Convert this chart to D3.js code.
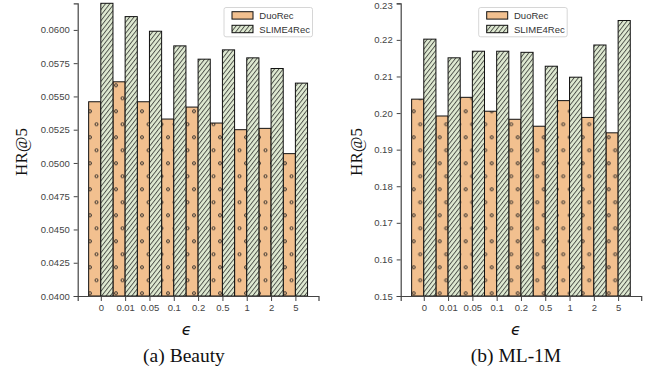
<!DOCTYPE html>
<html>
<head>
<meta charset="utf-8">
<script src="https://cdn.jsdelivr.net/npm/d3@7"></script>
<style>
  body { margin: 0; background: #fff; }
  svg { display: block; }
</style>
</head>
<body>
<svg id="chart" width="656" height="373"></svg>
<script>
const epsLabels = ["0", "0.01", "0.05", "0.1", "0.2", "0.5", "1", "2", "5"];
const seriesNames = ["DuoRec", "SLIME4Rec"];

const beautyDuo   = [0.0546, 0.0561, 0.0546, 0.0533, 0.0542, 0.0530, 0.0525, 0.0526, 0.0507];
const beautySlime = [0.0620, 0.0610, 0.0599, 0.0588, 0.0578, 0.0585, 0.0579, 0.0571, 0.0560];
const beautyTicks = [0.0400, 0.0425, 0.0450, 0.0475, 0.0500, 0.0525, 0.0550, 0.0575, 0.0600];

const mlDuo   = [0.2038, 0.1992, 0.2043, 0.2005, 0.1983, 0.1964, 0.2034, 0.1988, 0.1946];
const mlSlime = [0.2202, 0.2151, 0.2169, 0.2169, 0.2166, 0.2128, 0.2098, 0.2186, 0.2253];
const mlTicks = [0.15, 0.16, 0.17, 0.18, 0.19, 0.20, 0.21, 0.22, 0.23];

const orange = "#f2c08f";
const green = "#dfead2";
const axisCol = "#444";
const sans = "'Liberation Sans', Arial, sans-serif";
const serif = "'Liberation Serif', 'Times New Roman', serif";

const svg = d3.select("#chart");
const defs = svg.append("defs");

// hatch for SLIME4Rec: "////"
const diag = defs.append("pattern")
  .attr("id", "diag")
  .attr("patternUnits", "userSpaceOnUse")
  .attr("width", 3.4).attr("height", 10)
  .attr("patternTransform", "rotate(38)");
diag.append("rect").attr("width", 3.4).attr("height", 10).attr("fill", green);
diag.append("line").attr("x1", 0.5).attr("x2", 0.5).attr("y1", 0).attr("y2", 10)
  .attr("stroke", "#1a1a1a").attr("stroke-width", 0.75);

// hatch for DuoRec: small circles
function dotPattern(id, ox, oy) {
  const p = defs.append("pattern")
    .attr("id", id)
    .attr("patternUnits", "userSpaceOnUse")
    .attr("x", ox).attr("y", oy)
    .attr("width", 13).attr("height", 26);
  p.append("rect").attr("width", 13).attr("height", 26).attr("fill", orange);
  [[0, 0], [13, 0], [0, 26], [13, 26], [6.5, 13]].forEach(([cx, cy]) => {
    p.append("circle").attr("cx", cx).attr("cy", cy).attr("r", 1.5)
      .attr("fill", "none").attr("stroke", "#222").attr("stroke-width", 0.9);
  });
}
dotPattern("dotsA", 90, 189.3);
dotPattern("dotsB", 413.7, 189.3);

function panel(cfg) {
  const g = svg.append("g");
  const x = d3.scaleLinear().domain([-0.95, 8.95]).range([cfg.x0, cfg.x1]);
  const y = d3.scaleLinear().domain(cfg.yDomain).range([296, 3.3]);
  const bw = x(0.5) - x(0);

  // bars
  g.selectAll(".duo").data(cfg.duo).enter().append("rect")
    .attr("x", (d, i) => x(i - 0.5))
    .attr("y", d => y(d))
    .attr("width", bw)
    .attr("height", d => y(cfg.yDomain[0]) - y(d))
    .attr("fill", `url(#${cfg.dots})`)
    .attr("stroke", "#111").attr("stroke-width", 1);

  g.selectAll(".slime").data(cfg.slime).enter().append("rect")
    .attr("x", (d, i) => x(i))
    .attr("y", d => y(d))
    .attr("width", bw)
    .attr("height", d => y(cfg.yDomain[0]) - y(d))
    .attr("fill", "url(#diag)")
    .attr("stroke", "#111").attr("stroke-width", 1);

  // axes
  const yAxis = g.append("g")
    .attr("transform", `translate(${cfg.x0},0)`)
    .call(d3.axisLeft(y).tickValues(cfg.ticks).tickFormat(cfg.fmt).tickSize(4).tickPadding(4));
  const xAxis = g.append("g")
    .attr("transform", "translate(0,296)")
    .call(d3.axisBottom(x).tickValues(d3.range(epsLabels.length))
      .tickFormat(i => epsLabels[i]).tickSize(5).tickPadding(3));
  [yAxis, xAxis].forEach(a => {
    a.select(".domain").attr("stroke", axisCol).attr("stroke-width", 1.2);
    a.selectAll(".tick line").attr("stroke", axisCol).attr("stroke-width", 1);
    a.selectAll(".tick text").attr("fill", "#444")
      .style("font-family", sans).style("font-size", "9.5px");
  });
  // keep the top tick label inside the picture
  yAxis.selectAll(".tick text")
    .filter(d => y(d) < 6)
    .attr("dy", "0.55em");

  // labels
  g.append("text")
    .attr("transform", `translate(${cfg.ylabX},152) rotate(-90)`)
    .attr("text-anchor", "middle").attr("dominant-baseline", "central")
    .style("font-family", serif).style("font-size", "17px").attr("fill", "#111")
    .text("HR@5");
  g.append("text")
    .attr("x", cfg.epsX).attr("y", 335)
    .attr("text-anchor", "middle")
    .style("font-family", "'DejaVu Sans', sans-serif").style("font-style", "italic")
    .style("font-size", "16px").attr("fill", "#111")
    .text("\u03f5");
  g.append("text")
    .attr("x", cfg.capX).attr("y", 362)
    .attr("text-anchor", "middle")
    .style("font-family", serif).style("font-size", "19.5px").attr("fill", "#111")
    .text(cfg.caption);

  // legend
  const lg = g.append("g").attr("transform", `translate(${cfg.legX},7.5)`);
  lg.append("rect").attr("width", 88.5).attr("height", 29.3).attr("rx", 2)
    .attr("fill", "#fff").attr("stroke", "#ccc").attr("stroke-width", 0.8);
  seriesNames.forEach((name, i) => {
    lg.append("rect").attr("x", 8).attr("y", 4.2 + i * 13.6)
      .attr("width", 21).attr("height", 7.4)
      .attr("fill", i === 0 ? orange : "url(#diag)")
      .attr("stroke", "#111").attr("stroke-width", 1);
    lg.append("text").attr("x", 35.3).attr("y", 8 + i * 13.6)
      .attr("dominant-baseline", "central")
      .style("font-family", sans).style("font-size", "9.5px").attr("fill", "#333")
      .text(name);
  });
}

panel({
  x0: 77.7, x1: 318.5,
  yDomain: [0.04, d3.max(beautySlime)],
  duo: beautyDuo, slime: beautySlime, ticks: beautyTicks,
  fmt: d3.format(".4f"), dots: "dotsA",
  ylabX: 21, epsX: 186.7, capX: 184, caption: "(a) Beauty", legX: 224
});
panel({
  x0: 400.7, x1: 641.2,
  yDomain: [0.15, 0.23],
  duo: mlDuo, slime: mlSlime, ticks: mlTicks,
  fmt: d3.format(".2f"), dots: "dotsB",
  ylabX: 356.3, epsX: 516, capX: 516, caption: "(b) ML-1M", legX: 478.7
});
</script>
</body>
</html>
